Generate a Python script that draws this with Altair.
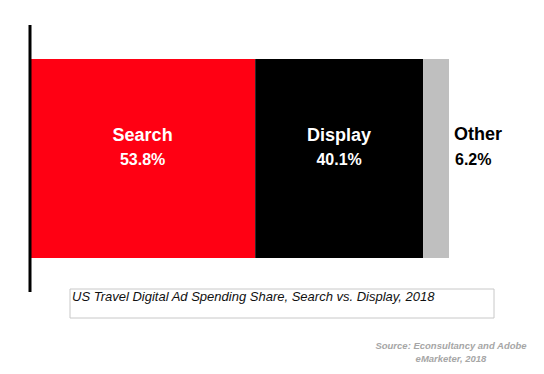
import altair as alt
import pandas as pd

categories = ["Search", "Display", "Other"]
shares = [53.8, 40.1, 6.2]
labels = ["53.8%", "40.1%", "6.2%"]
colors = ["#FF0013", "#000000", "#BFBFBF"]
inside = [True, True, False]

caption = "US Travel Digital Ad Spending Share, Search vs. Display, 2018"
source = ["Source: Econsultancy and Adobe", "eMarketer, 2018"]

rows = []
start = 0.0
for c, s, l, col, ins in zip(categories, shares, labels, colors, inside):
    rows.append({"category": c, "share": s, "label": l, "start": start,
                 "end": start + s, "mid": start + s / 2, "inside": ins})
    start += s
df = pd.DataFrame(rows)

FONT = "Liberation Sans"
xscale = alt.Scale(domain=[0, 100.1], range=[22, 441])

base = alt.Chart(df)

bars = base.mark_rect().encode(
    x=alt.X("start:Q", scale=xscale, axis=None),
    x2="end:Q",
    y=alt.value(51),
    y2=alt.value(250),
    color=alt.Color("category:N", scale=alt.Scale(domain=categories, range=colors), legend=None),
)

axis_line = alt.Chart(pd.DataFrame({"v": [0]})).mark_rule(color="#000000", strokeWidth=3).encode(
    x=alt.X("v:Q", scale=xscale, axis=None),
    y=alt.value(17),
    y2=alt.value(284),
)

in_name = base.transform_filter("datum.inside").mark_text(
    font=FONT, fontSize=18, fontWeight="bold", color="white", align="center", baseline="alphabetic"
).encode(x=alt.X("mid:Q", scale=xscale), y=alt.value(133), text="category:N")

in_pct = base.transform_filter("datum.inside").mark_text(
    font=FONT, fontSize=16, fontWeight="bold", color="white", align="center", baseline="alphabetic"
).encode(x=alt.X("mid:Q", scale=xscale), y=alt.value(157), text="label:N")

out_name = base.transform_filter("!datum.inside").mark_text(
    font=FONT, fontSize=18, fontWeight="bold", color="black", align="left", baseline="alphabetic", dx=5
).encode(x=alt.X("end:Q", scale=xscale), y=alt.value(132), text="category:N")

out_pct = base.transform_filter("!datum.inside").mark_text(
    font=FONT, fontSize=16, fontWeight="bold", color="black", align="left", baseline="alphabetic", dx=6
).encode(x=alt.X("end:Q", scale=xscale), y=alt.value(157), text="label:N")

box = alt.Chart(pd.DataFrame({"t": [caption]})).mark_rect(
    fill="white", stroke="#C8C8C8", strokeWidth=1
).encode(x=alt.value(62), x2=alt.value(486), y=alt.value(281), y2=alt.value(310))

cap = alt.Chart(pd.DataFrame({"t": [caption]})).mark_text(
    font=FONT, fontSize=13, fontStyle="italic", color="#111111", align="left", baseline="alphabetic"
).encode(x=alt.value(64), y=alt.value(293), text="t:N")

src = alt.Chart(pd.DataFrame({"t": [source]})).mark_text(
    font=FONT, fontSize=9.5, fontStyle="italic", fontWeight="bold", color="#A6A6A6",
    align="center", baseline="alphabetic", lineHeight=13
).encode(x=alt.value(443), y=alt.value(341), text="t")

chart = alt.layer(bars, axis_line, in_name, in_pct, out_name, out_pct, box, cap, src).properties(
    width=528, height=358, autosize=alt.AutoSizeParams(type="none"), padding=0
).configure(background="white").configure_view(stroke=None, strokeWidth=0)

chart.save("out.html", embed_options={"renderer": "svg", "actions": False})
